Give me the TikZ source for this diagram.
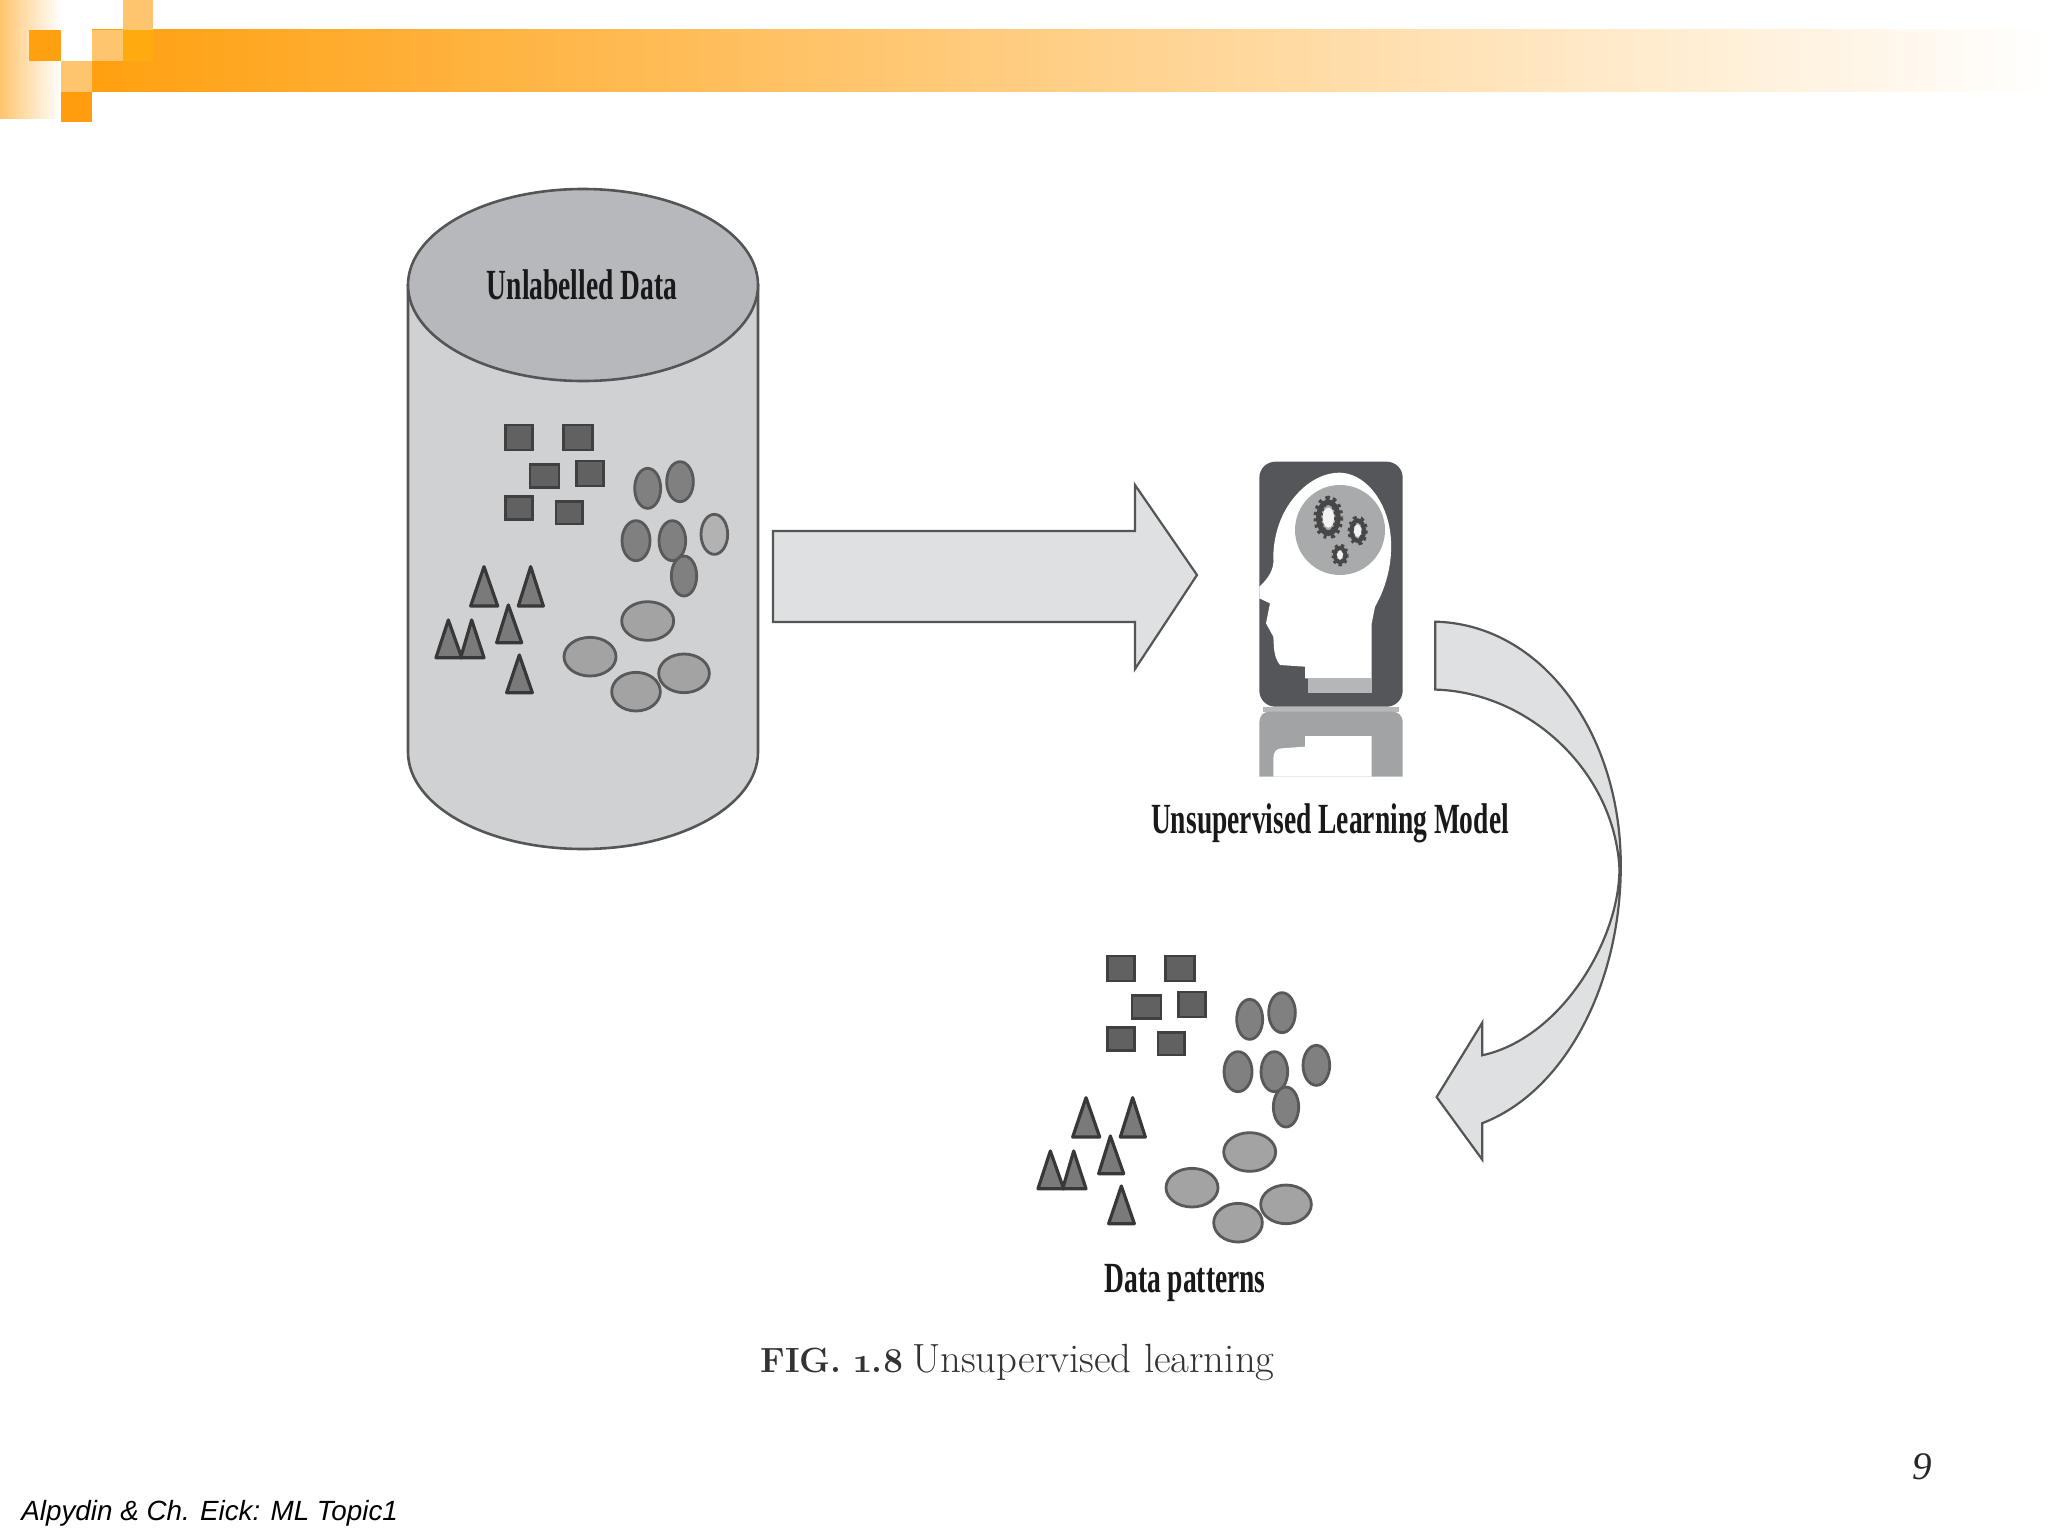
\documentclass[tikz,border=0pt]{standalone}
\usepackage{fontspec}
\setmainfont{Liberation Serif}
\newfontfamily\condfont[FakeStretch=0.64]{Liberation Serif}
\newfontfamily\capfont[Numbers=OldStyle]{Latin Modern Roman}
\newfontfamily\footfont{Liberation Sans}
\definecolor{bandorange}{HTML}{FFA010}
\definecolor{lightorange}{HTML}{FFC56E}
\definecolor{cylbody}{HTML}{D0D1D3}
\definecolor{cyltop}{HTML}{B7B8BB}
\definecolor{edgegray}{HTML}{555555}
\definecolor{arrowfill}{HTML}{DFE0E1}
\definecolor{icondark}{HTML}{55565A}
\definecolor{iconmid}{HTML}{A9AAAC}
\definecolor{iconlow}{HTML}{B5B6B8}
\definecolor{reflect}{HTML}{A2A3A5}
\tikzset{
  cylshape/.style={fill=cylbody,draw=edgegray,line width=1.3pt},
  cyllid/.style={fill=cyltop,draw=edgegray,line width=1.3pt},
  bigarrow/.style={fill=arrowfill,draw=edgegray,line width=1.1pt,line join=miter},
  brick/.style={fill=black!62,draw=black!75,line width=1.4pt},
  talloval/.style={fill=black!50,draw=black!65,line width=1.4pt},
  wideoval/.style={fill=black!36,draw=black!65,line width=1.4pt},
  spike/.style={fill=black!52,draw=black!78,line width=1.6pt,line join=round},
  gearteeth/.style={black!72,line width=4.5pt,dash pattern=on 1.4pt off 1.5pt},
  gearring/.style={black!72,line width=2.6pt},
  gearhole/.style={fill=white!85!iconmid},
  zoomunits/.style={x=0.16667pt,y=-0.16667pt},
  condlabel/.style={font=\condfont\bfseries\fontsize{21.5}{24}\selectfont,text=black!90,inner sep=0pt},
}
\newcommand{\datacluster}[3]{%
  \begin{scope}[shift={(#1,#2)},zoomunits]
    \foreach \xa/\ya/\xb/\yb in {317/75/398/150,490/75/577/150,390/193/477/262,530/183/610/258,317/290/398/358,468/305/548/372}
      \draw[brick] (\xa,\ya) rectangle (\xb,\yb);
    \foreach \cx/\cy/\ra/\rb in {743/265/39/60,840/245/40/60,708/422/42/60,817/422/40/60,852/528/38/60}
      \draw[talloval] (\cx,\cy) ellipse [x radius=\ra, y radius=\rb];
    \draw[talloval,fill=#3] (943,403) ellipse [x radius=40, y radius=60];
    \foreach \cx/\cy/\ra in {743/663/78,570/770/78,852/820/76,708/875/73}
      \draw[wideoval] (\cx,\cy) ellipse [x radius=\ra, y radius=58];
    \foreach \ax/\ay/\bl/\br/\by in {252/500/212/293/618,392/500/355/430/618,325/615/290/365/728,145/660/108/185/773,215/660/182/252/773,358/765/320/397/878}
      \draw[spike] (\ax,\ay) -- (\bl,\by) -- (\br,\by) -- cycle;
  \end{scope}}
\begin{document}
\begin{tikzpicture}[x=0.5pt,y=-0.5pt]
\useasboundingbox (0,0) rectangle (2048,1536);
% header
\shade[left color=lightorange,right color=white] (0,0) rectangle (61,118);
\fill[white] (61,0) rectangle (123,61);
\shade[left color=bandorange,right color=white] (92,30) rectangle (2048,92);
\fill[bandorange] (29,30) rectangle (61,61);
\fill[lightorange] (61,61) rectangle (92,92);
\fill[lightorange] (92,30) rectangle (123,61);
\fill[lightorange] (123,0) rectangle (153,30);
\fill[bandorange!92!orange] (61,92) rectangle (92,122);
\fill[bandorange!90!yellow] (123,30) rectangle (153,61);
% cylinder
\draw[cylshape] (408,285) -- (408,752) arc[start angle=180,end angle=0,x radius=175,y radius=97] -- (758,285) -- cycle;
\draw[cyllid] (583,285) ellipse [x radius=175, y radius=96];
\node[condlabel] (unlabelled) at (582,285) {Unlabelled Data};
\datacluster{400}{400}{black!30}
% big arrow
\draw[bigarrow] (773,531) -- (1135,531) -- (1135,485) -- (1197,575) -- (1135,669) -- (1135,622) -- (773,622) -- cycle;
% icon
\begin{scope}[shift={(1130,440)},zoomunits]
  \fill[icondark,rounded corners=8pt] (388,65) rectangle (818,800);
  \fill[white] (388,440) .. controls (410,420) and (435,390) .. (430,350)
    .. controls (430,300) and (445,230) .. (490,175)
    .. controls (530,125) and (580,98) .. (630,98)
    .. controls (700,100) and (760,170) .. (778,260)
    .. controls (795,350) and (770,440) .. (735,500)
    -- (725,550) -- (725,715) -- (525,715) -- (525,680) -- (450,675)
    .. controls (430,650) and (432,620) .. (430,590)
    -- (408,550) -- (420,490) -- (388,475) -- cycle;
  \fill[iconlow] (535,715) rectangle (727,760);
  \fill[iconmid] (630,270) circle [radius=135];
  \draw[gearteeth] (595,233) ellipse [x radius=31,y radius=52];
  \draw[gearring] (595,233) ellipse [x radius=29,y radius=47];
  \fill[gearhole] (595,233) ellipse [x radius=17,y radius=30];
  \draw[gearteeth,line width=3.4pt] (683,272) ellipse [x radius=20,y radius=35];
  \draw[gearring,line width=2pt] (683,272) ellipse [x radius=19,y radius=31];
  \fill[gearhole] (683,272) ellipse [x radius=11,y radius=19];
  \draw[gearteeth,line width=3pt,dash pattern=on 1.2pt off 1.2pt] (630,345) ellipse [x radius=17,y radius=25];
  \draw[gearring,line width=1.8pt] (630,345) ellipse [x radius=16,y radius=22];
  \fill[gearhole] (630,345) ellipse [x radius=9,y radius=13];
  \fill[black!28] (400,800) rectangle (806,815);
  \fill[reflect] (388,1010) -- (388,850) .. controls (388,825) and (400,815) .. (420,815)
    -- (785,815) .. controls (805,815) and (818,825) .. (818,850) -- (818,1010) -- cycle;
  \fill[white] (430,1010) -- (430,955) .. controls (430,935) and (440,925) .. (455,925)
    -- (525,920) -- (525,888) -- (725,888) -- (725,1010) -- cycle;
\end{scope}
\node[condlabel] (modellabel) at (1330,823) {Unsupervised Learning Model};
% curved arrow
\begin{scope}[x=0.653pt,y=-0.653pt]
  \draw[bigarrow] (1099,476) .. controls (1180,478) and (1240,560) .. (1241,660)
    .. controls (1242,750) and (1200,835) .. (1135,860)
    -- (1135,888) -- (1100,840) -- (1135,783) -- (1135,808)
    .. controls (1195,795) and (1240,720) .. (1240,665)
    .. controls (1236,590) and (1170,530) .. (1099,528) -- cycle;
\end{scope}
\datacluster{1002}{931}{black!50}
\node[condlabel] (patternlabel) at (1185,1283) {Data patterns};
\node[inner sep=0pt,anchor=base west,text=black!80,font=\capfont\fontsize{20.4}{22}\selectfont] (caption) at (760,1372) {\textbf{\fontsize{17.5}{20}\selectfont FIG. 1.8}\hspace{-0.12em} Unsupervised learning};
\node[inner sep=0pt,font=\itshape\fontsize{19.5}{22}\selectfont,text=black!85] (pagenum) at (1922,1467) {9};
\node[inner sep=0pt,anchor=west,font=\footfont\itshape\fontsize{13.9}{16}\selectfont] (footer) at (21,1513) {Alpydin \& Ch. Eick: ML Topic1};
\end{tikzpicture}
\end{document}
